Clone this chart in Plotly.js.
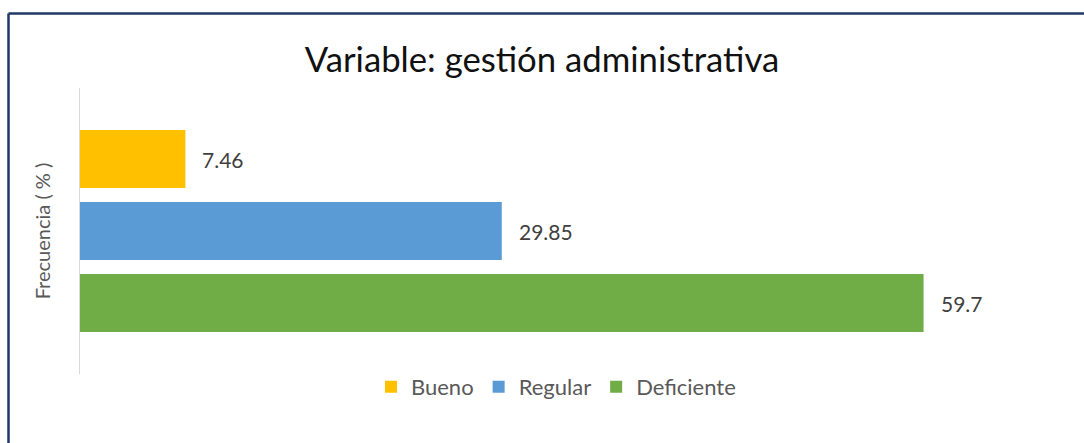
<!DOCTYPE html>
<html>
<head>
<meta charset="utf-8">
<script src="https://cdn.plot.ly/plotly-3.0.1.min.js"></script>
<style>
  html, body { margin: 0; padding: 0; background: #ffffff; }
  #chart { width: 1084px; height: 443px; }
</style>
</head>
<body>
<div id="chart"></div>
<script>
// ---- data ----
const categories = ['Bueno', 'Regular', 'Deficiente'];
const values = [7.46, 29.85, 59.7];
const valueLabels = ['7.46', '29.85', '59.7'];
const colors = ['#FFC000', '#5B9BD5', '#70AD47'];

const FONT = 'Lato, "Liberation Sans", sans-serif';

const traces = categories.map((c, i) => ({
  type: 'bar',
  orientation: 'h',
  name: c,
  y: [c],
  x: [values[i]],
  marker: { color: colors[i] },
  hoverinfo: 'x+name'
}));

const annotations = categories.map((c, i) => ({
  x: values[i],
  y: c,
  xref: 'x',
  yref: 'y',
  text: valueLabels[i],
  showarrow: false,
  xanchor: 'left',
  yanchor: 'middle',
  xshift: 15,
  font: { family: FONT, size: 21, color: '#404040' }
}));

const layout = {
  width: 1084,
  height: 443,
  margin: { l: 80, r: 52, t: 88, b: 69 },
  paper_bgcolor: '#ffffff',
  plot_bgcolor: '#ffffff',
  font: { family: FONT, color: '#595959' },
  title: {
    text: 'Variable: gestión administrativa',
    font: { family: FONT, size: 34.7, color: '#111111' },
    x: 0.5,
    xref: 'container',
    xanchor: 'center',
    y: 1 - 60 / 443,
    yref: 'container',
    yanchor: 'middle'
  },
  barmode: 'overlay',
  bargap: 0.194,
  xaxis: {
    range: [0, 952 / 14.13],
    showgrid: false,
    zeroline: false,
    showline: false,
    showticklabels: false,
    ticks: '',
    fixedrange: true
  },
  yaxis: {
    type: 'category',
    categoryorder: 'array',
    categoryarray: categories,
    range: [2.986, -0.986],
    showgrid: false,
    zeroline: false,
    showline: true,
    linecolor: '#D9D9D9',
    linewidth: 1.5,
    showticklabels: false,
    ticks: '',
    title: {
      text: 'Frecuencia ( % )',
      font: { family: FONT, size: 20, color: '#595959' },
      standoff: 22
    },
    fixedrange: true
  },
  showlegend: true,
  legend: {
    orientation: 'h',
    x: 0.5,
    xanchor: 'center',
    y: -0.045,
    yanchor: 'middle',
    traceorder: 'normal',
    itemwidth: 30,
    font: { family: FONT, size: 22, color: '#595959' }
  },
  annotations: annotations,
  shapes: [
    { type: 'line', xref: 'paper', yref: 'paper',
      x0: (8.5 - 80) / 952, x1: (8.5 - 80) / 952,
      y0: -0.4, y1: (374 - 13.5) / 286,
      line: { color: '#1F3864', width: 2.5 } },
    { type: 'line', xref: 'paper', yref: 'paper',
      x0: (8.5 - 80) / 952, x1: 1.2,
      y0: (374 - 13.5) / 286, y1: (374 - 13.5) / 286,
      line: { color: '#1F3864', width: 2.5 } }
  ]
};

Plotly.newPlot('chart', traces, layout, { displayModeBar: false, staticPlot: true });
</script>
</body>
</html>
